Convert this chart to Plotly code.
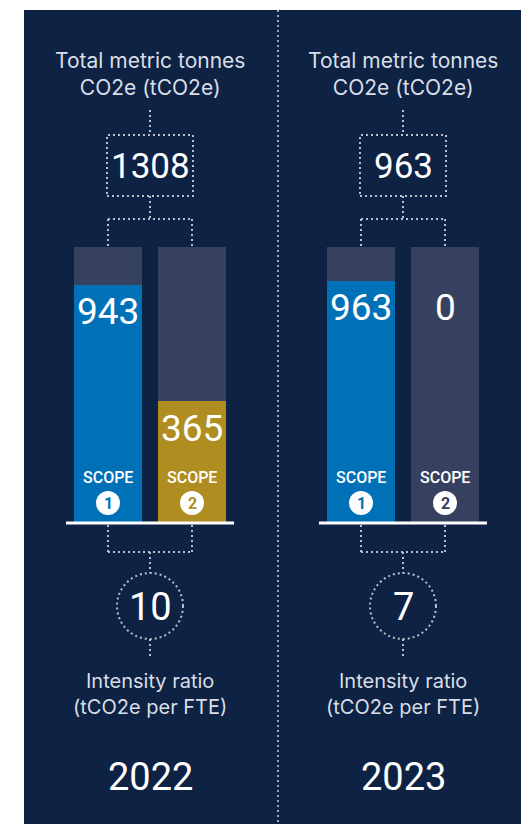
import plotly.graph_objects as go
import numpy as np

# ---- data ----
years = ["2022", "2023"]
scope1 = [943, 963]
scope2 = [365, 0]
totals = [1308, 963]
intensity = [10, 7]
scope_word = "SCOPE"
scope_nums = ["1", "2"]
top_label = "Total metric tonnes<br>CO2e (tCO2e)"
bottom_label = "Intensity ratio<br>(tCO2e per FTE)"

# ---- style / layout ----
W, H = 521, 824
NAVY = "#0e2244"
TRACK = "#36415f"
BLUE = "#0071b7"
GOLD = "#b08d20"
DOT = "#b9c0cc"
TXT = "#d9dee6"
NUM_FONT = "Roboto, sans-serif"
LBL_FONT = "Inter, Roboto, sans-serif"

centers = [150, 403]
OFF = 42
BARW = 68
BAR_BOTTOM = 522
BAR_TOP = 247
OFFSET = 236
YMAX = 1130
DASH = "2px,3px"


def px(x):
    return x / W


def py(y):
    return 1 - y / H


fig = go.Figure()

xs1 = [c - OFF for c in centers]
xs2 = [c + OFF for c in centers]

# tracks
fig.add_trace(go.Bar(x=xs1 + xs2, y=[YMAX + OFFSET] * 4, base=-OFFSET, width=BARW,
                     marker=dict(color=TRACK, line_width=0), hoverinfo="skip", showlegend=False))
# scope 1
fig.add_trace(go.Bar(x=xs1, y=np.array(scope1) + OFFSET, base=-OFFSET, width=BARW,
                     marker=dict(color=BLUE, line_width=0), hoverinfo="skip", showlegend=False))
# scope 2
s2_colors = [GOLD if v > 0 else TRACK for v in scope2]
fig.add_trace(go.Bar(x=xs2, y=np.array(scope2) + OFFSET, base=-OFFSET, width=BARW,
                     marker=dict(color=s2_colors, line_width=0), hoverinfo="skip", showlegend=False))

shapes = []
ann = []

# panel background
shapes.append(dict(type="rect", xref="paper", yref="paper", x0=px(24), x1=px(W), y0=py(H), y1=py(10),
                   fillcolor=NAVY, line_width=0, layer="below"))
# divider
shapes.append(dict(type="line", xref="paper", yref="paper", x0=px(278), x1=px(278), y0=py(10), y1=py(H),
                   line=dict(color="#9aa3b3", width=2, dash=DASH)))


def dline(x0, y0, x1, y1):
    shapes.append(dict(type="line", xref="paper", yref="paper", x0=px(x0), x1=px(x1), y0=py(y0), y1=py(y1),
                       line=dict(color=DOT, width=2, dash=DASH)))


for i, c in enumerate(centers):
    a, b = xs1[i], xs2[i]
    # top label
    ann.append(dict(text=top_label, x=px(c), y=py(74), xref="paper", yref="paper", showarrow=False,
                    xanchor="center", yanchor="middle", font=dict(family=LBL_FONT, size=21, color=TXT)))
    # connector to box
    dline(c, 110, c, 135)
    shapes.append(dict(type="rect", xref="paper", yref="paper", x0=px(c - 43), x1=px(c + 43), y0=py(196), y1=py(135),
                       line=dict(color=DOT, width=2, dash=DASH)))
    ann.append(dict(text=str(totals[i]), x=px(c), y=py(166), xref="paper", yref="paper", showarrow=False,
                    xanchor="center", yanchor="middle", font=dict(family=NUM_FONT, size=35, color="white")))
    dline(c, 196, c, 219)
    dline(a, 219, b, 219)
    dline(a, 219, a, BAR_TOP)
    dline(b, 219, b, BAR_TOP)

    # baseline
    shapes.append(dict(type="line", xref="paper", yref="paper", x0=px(c - 84), x1=px(c + 84), y0=py(523), y1=py(523),
                       line=dict(color="white", width=3)))

    # value labels in bars
    vals = [scope1[i], scope2[i]]
    for xb, v, nc, col in [(a, scope1[i], scope_nums[0], BLUE), (b, scope2[i], scope_nums[1], s2_colors[i])]:
        ly = v if v > 0 else max(vals)
        ann.append(dict(text=str(v), x=xb, y=ly, xref="x", yref="y", showarrow=False, yshift=-27,
                        xanchor="center", yanchor="middle", font=dict(family=NUM_FONT, size=37, color="white")))
        ann.append(dict(text=scope_word, x=px(xb), y=py(478), xref="paper", yref="paper", showarrow=False,
                        xanchor="center", yanchor="middle",
                        font=dict(family=NUM_FONT, size=16, color="white", weight=500)))
        shapes.append(dict(type="circle", xref="paper", yref="paper", x0=px(xb - 12), x1=px(xb + 12),
                           y0=py(515), y1=py(491), fillcolor="white", line_width=0))
        ann.append(dict(text="<b>%s</b>" % nc, x=px(xb), y=py(503), xref="paper", yref="paper", showarrow=False,
                        xanchor="center", yanchor="middle", font=dict(family="Roboto", size=16, color=col)))

    # connectors below
    dline(a, 525, a, 552)
    dline(b, 525, b, 552)
    dline(a, 552, b, 552)
    dline(c, 552, c, 573)
    shapes.append(dict(type="circle", xref="paper", yref="paper", x0=px(c - 33), x1=px(c + 33), y0=py(639), y1=py(573),
                       line=dict(color=DOT, width=2, dash=DASH)))
    ann.append(dict(text=str(intensity[i]), x=px(c), y=py(607), xref="paper", yref="paper", showarrow=False,
                    xanchor="center", yanchor="middle", font=dict(family=NUM_FONT, size=38, color="white")))
    dline(c, 639, c, 658)
    ann.append(dict(text=bottom_label, x=px(c), y=py(694), xref="paper", yref="paper", showarrow=False,
                    xanchor="center", yanchor="middle", font=dict(family=LBL_FONT, size=20, color=TXT)))
    ann.append(dict(text=years[i], x=px(c), y=py(777), xref="paper", yref="paper", showarrow=False,
                    xanchor="center", yanchor="middle", font=dict(family=NUM_FONT, size=38, color="white")))

fig.update_layout(
    width=W, height=H, margin=dict(l=0, r=0, t=0, b=0),
    paper_bgcolor="white", plot_bgcolor="rgba(0,0,0,0)",
    barmode="overlay", bargap=0,
    xaxis=dict(range=[0, W], domain=[0, 1], visible=False, fixedrange=True),
    yaxis=dict(range=[-OFFSET, YMAX], domain=[(H - BAR_BOTTOM) / H, (H - BAR_TOP) / H], visible=False, fixedrange=True),
    shapes=shapes, annotations=ann, showlegend=False,
)

fig.write_html("out.html", config={"displayModeBar": False})
